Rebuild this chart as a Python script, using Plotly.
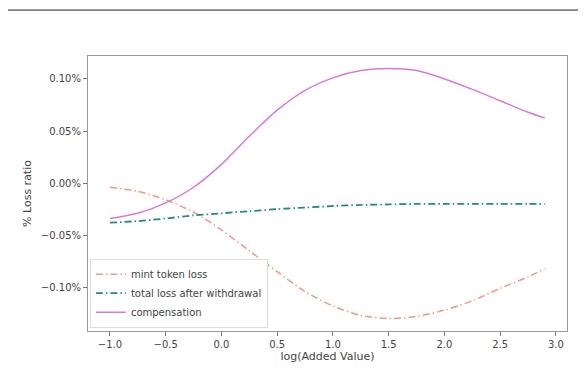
import plotly.graph_objects as go

x_vals = [-1.0, -0.75, -0.5, -0.25, 0.0, 0.25, 0.5, 0.75, 1.0, 1.25, 1.5, 1.75, 2.0, 2.25, 2.5, 2.75, 2.9]
mint_token_loss = [-0.004, -0.008, -0.016, -0.028, -0.045, -0.065, -0.085, -0.104, -0.118, -0.127, -0.130, -0.128, -0.122, -0.113, -0.101, -0.090, -0.082]
total_loss = [-0.038, -0.0365, -0.034, -0.031, -0.029, -0.027, -0.025, -0.0235, -0.022, -0.021, -0.0205, -0.020, -0.020, -0.020, -0.020, -0.020, -0.020]
compensation = [-0.034, -0.029, -0.019, -0.004, 0.018, 0.045, 0.070, 0.089, 0.101, 0.108, 0.110, 0.108, 0.100, 0.090, 0.079, 0.068, 0.0625]

x_ticks = [-1.0, -0.5, 0.0, 0.5, 1.0, 1.5, 2.0, 2.5, 3.0]
y_ticks = [0.10, 0.05, 0.0, -0.05, -0.10]

def pct(v):
    return [a / 100 for a in v]

fig = go.Figure()
fig.add_trace(go.Scatter(x=x_vals, y=pct(mint_token_loss), mode="lines", name="mint token loss",
                         line=dict(color="#EE9A86", width=1.5, dash="7px,3px,1.5px,3px", shape="spline", smoothing=0.8)))
fig.add_trace(go.Scatter(x=x_vals, y=pct(total_loss), mode="lines", name="total loss after withdrawal",
                         line=dict(color="#238A84", width=1.8, dash="7px,3px,1.5px,3px", shape="spline", smoothing=0.8)))
fig.add_trace(go.Scatter(x=x_vals, y=pct(compensation), mode="lines", name="compensation",
                         line=dict(color="#D67AD8", width=1.5, shape="spline", smoothing=0.8)))

axis_common = dict(showline=True, linecolor="#999999", linewidth=1, mirror=True,
                   ticks="outside", ticklen=4, tickcolor="#777777", showgrid=False, zeroline=False,
                   tickfont=dict(family="DejaVu Sans", size=10, color="#444444"))

fig.update_layout(
    width=578, height=367,
    margin=dict(l=80, r=19, t=48, b=44),
    paper_bgcolor="white", plot_bgcolor="white",
    font=dict(family="DejaVu Sans", color="#444444"),
    xaxis=dict(range=[-1.197, 3.099], tickvals=x_ticks, ticktext=[f"{t:.1f}".replace("-", "\u2212") for t in x_ticks],
               title=dict(text="log(Added Value)", font=dict(size=11, color="#444444"), standoff=2), **axis_common),
    yaxis=dict(range=[-0.00142, 0.00122], tickvals=[t / 100 for t in y_ticks],
               ticktext=[f"{t:.2f}%".replace("-", "\u2212") for t in y_ticks],
               title=dict(text="% Loss ratio", font=dict(size=11, color="#444444"), standoff=6), **axis_common),
    legend=dict(x=0.004, y=0.012, xanchor="left", yanchor="bottom", bgcolor="rgba(255,255,255,0.9)",
                bordercolor="#dddddd", borderwidth=1, font=dict(size=10, color="#444444"),
                tracegroupgap=0, itemwidth=30),
    shapes=[dict(type="line", xref="paper", yref="paper", x0=-0.167, x1=1.04, y0=1.167, y1=1.167,
                 line=dict(color="#222222", width=1))],
)

fig.write_html("out.html")
